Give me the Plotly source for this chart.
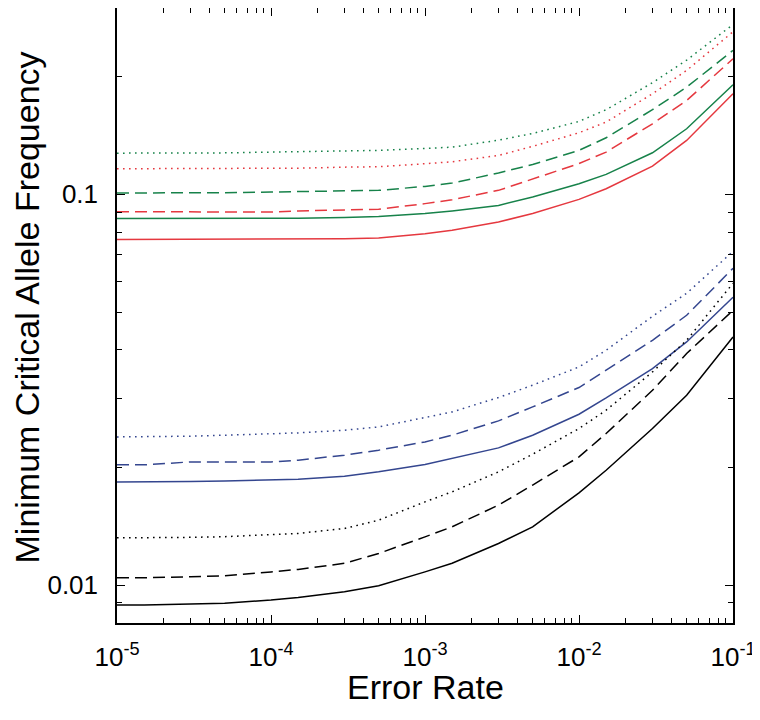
import plotly.graph_objects as go

# ---- data ----
error_rate = [1e-5, 1.5e-5, 3e-5, 5e-5, 1e-4, 1.5e-4, 3e-4, 5e-4, 1e-3, 1.5e-3,
              3e-3, 5e-3, 1e-2, 1.5e-2, 3e-2, 5e-2, 1e-1]

green_dotted = [0.1275, 0.1275, 0.1275, 0.1277, 0.1283, 0.1287, 0.1291, 0.1296, 0.1311, 0.1321,
                0.1376, 0.1432, 0.1537, 0.1647, 0.1931, 0.2206, 0.2721]
red_dotted = [0.1163, 0.1163, 0.1163, 0.1163, 0.1163, 0.1167, 0.1174, 0.1177, 0.1198, 0.1212,
              0.1258, 0.1327, 0.1438, 0.1531, 0.1809, 0.2076, 0.2607]
green_dashed = [0.1008, 0.1008, 0.1008, 0.1010, 0.1014, 0.1016, 0.1020, 0.1024, 0.1048, 0.1069,
                0.1134, 0.1193, 0.1296, 0.1396, 0.1647, 0.1881, 0.2336]
red_dashed = [0.0903, 0.0903, 0.0903, 0.0901, 0.0901, 0.0907, 0.0912, 0.0916, 0.0947, 0.0969,
              0.1024, 0.1093, 0.1199, 0.1283, 0.1516, 0.1739, 0.2223]
green_solid = [0.0867, 0.0867, 0.0867, 0.0867, 0.0867, 0.0869, 0.0872, 0.0878, 0.0893, 0.0907,
               0.0937, 0.0985, 0.1065, 0.1125, 0.1278, 0.1472, 0.1908]
red_solid = [0.0767, 0.0767, 0.0767, 0.0767, 0.0767, 0.0769, 0.0770, 0.0773, 0.0793, 0.0809,
             0.0850, 0.0893, 0.0971, 0.1034, 0.1181, 0.1374, 0.1809]

blue_dotted = [0.02395, 0.02395, 0.02405, 0.02419, 0.02433, 0.02452, 0.02491, 0.02540, 0.02685, 0.02775,
               0.03020, 0.03248, 0.03617, 0.03990, 0.04875, 0.05582, 0.07147]
blue_dashed = [0.02031, 0.02031, 0.02067, 0.02067, 0.02067, 0.02088, 0.02150, 0.02215, 0.02325, 0.02419,
               0.02632, 0.02858, 0.03204, 0.03548, 0.04232, 0.04904, 0.06467]
blue_solid = [0.01837, 0.01837, 0.01841, 0.01848, 0.01855, 0.01866, 0.01900, 0.01949, 0.02036, 0.02109,
              0.02245, 0.02419, 0.02737, 0.03013, 0.03581, 0.04191, 0.05453]
black_dotted = [0.01321, 0.01321, 0.01325, 0.01330, 0.01343, 0.01356, 0.01396, 0.01466, 0.01633, 0.01733,
                0.01949, 0.02163, 0.02516, 0.02803, 0.03512, 0.04232, 0.05922]
black_dashed = [0.01044, 0.01044, 0.01050, 0.01056, 0.01081, 0.01097, 0.01137, 0.01205, 0.01329, 0.01410,
                0.01602, 0.01803, 0.02129, 0.02443, 0.03152, 0.03914, 0.05049]
black_solid = [0.00889, 0.00889, 0.00894, 0.00898, 0.00916, 0.00930, 0.00961, 0.00996, 0.01081, 0.01137,
               0.01278, 0.01410, 0.01722, 0.01968, 0.02516, 0.03062, 0.04315]

x_tick_vals = [1e-5, 1e-4, 1e-3, 1e-2, 1e-1]
x_tick_text = ["10<sup>-5</sup>", "10<sup>-4</sup>", "10<sup>-3</sup>", "10<sup>-2</sup>", "10<sup>-1</sup>"]
y_tick_vals = [0.01, 0.1]
y_tick_text = ["0.01", "0.1"]
x_title = "Error Rate"
y_title = "Minimum Critical Allele Frequency"

# ---- styles ----
GREEN = "#17824a"
RED = "#e5383f"
BLUE = "#34468f"
BLACK = "#000000"
DOT = "1.6px,4.4px"
DASH = "12px,6px"

series = [
    (green_dotted, GREEN, DOT), (red_dotted, RED, DOT),
    (green_dashed, GREEN, DASH), (red_dashed, RED, DASH),
    (green_solid, GREEN, "solid"), (red_solid, RED, "solid"),
    (blue_dotted, BLUE, DOT), (blue_dashed, BLUE, DASH), (blue_solid, BLUE, "solid"),
    (black_dotted, BLACK, DOT), (black_dashed, BLACK, DASH), (black_solid, BLACK, "solid"),
]

fig = go.Figure()
for ys, col, dash in series:
    fig.add_trace(go.Scatter(x=error_rate, y=ys, mode="lines",
                             line=dict(color=col, width=1.5, dash=dash),
                             showlegend=False, hoverinfo="skip"))

minor_x = [k * 10.0 ** d for d in range(-5, -1) for k in range(2, 10)]
minor_y = [0.008, 0.009] + [k * 0.01 for k in range(2, 10)] + [0.2]

FONT = "Liberation Sans, Arial, sans-serif"
axis_common = dict(
    type="log", showgrid=False, zeroline=False, automargin=False,
    showline=True, linecolor="black", linewidth=1.5, mirror="ticks",
    ticks="inside", ticklen=8, tickwidth=1.2, tickcolor="black",
    tickfont=dict(family=FONT, size=26, color="black"),
)
minor_common = dict(ticks="inside", ticklen=5, tickwidth=1.2, tickcolor="black", showgrid=False)

# the page body adds an 8px offset, so the figure is 752x712
fig.update_layout(
    width=752, height=712,
    margin=dict(l=109, r=27, t=0, b=97),
    paper_bgcolor="white", plot_bgcolor="white",
    font=dict(family=FONT, color="black"),
    xaxis=dict(**axis_common, range=[-5, -1], ticklabelstandoff=10,
               tickmode="array", tickvals=x_tick_vals, ticktext=x_tick_text,
               minor=dict(**minor_common, tickvals=minor_x)),
    yaxis=dict(**axis_common, range=[-2.097, -0.523], ticklabelstandoff=12,
               tickmode="array", tickvals=y_tick_vals, ticktext=y_tick_text,
               minor=dict(**minor_common, tickvals=minor_y)),
    annotations=[
        dict(text=x_title, xref="paper", yref="paper", x=0.5, y=0,
             xanchor="center", yanchor="middle", yshift=-64, showarrow=False,
             font=dict(family=FONT, size=34, color="black")),
        dict(text=y_title, xref="paper", yref="paper", x=0, y=0.5,
             xanchor="center", yanchor="middle", xshift=-91, yshift=8, textangle=-90,
             showarrow=False, font=dict(family=FONT, size=34, color="black")),
    ],
)

fig.write_html("out.html")
